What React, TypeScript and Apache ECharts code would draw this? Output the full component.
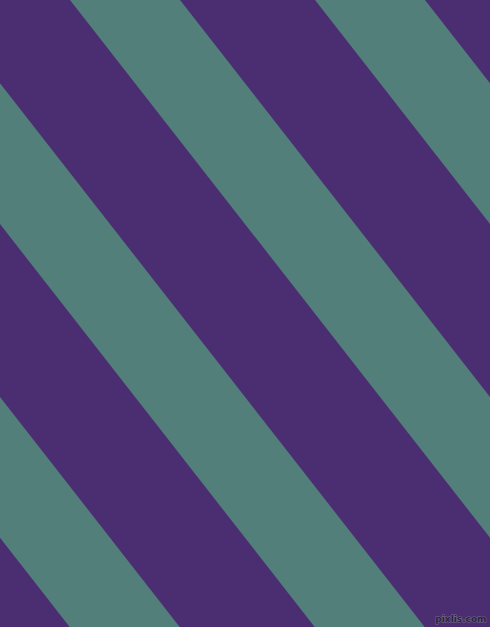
import React, { useEffect, useRef } from "react";
import * as echarts from "echarts";

// teal bands, x where each band meets the top edge (y = 0)
const bandStart = [-420, -175, 70, 315];
const bandEnd = [-310, -65, 180, 425];

const WIDTH = 490;
const HEIGHT = 627;
// horizontal shift per pixel down
const SLANT = 0.781;

const PURPLE = "#4b2d72";
const TEAL = "#527f7a";

const App: React.FC = () => {
  const chartRef = useRef<HTMLDivElement>(null);

  useEffect(() => {
    const chart = echarts.init(chartRef.current!, undefined, { renderer: "svg" });

    const option = {
      animation: false,
      backgroundColor: PURPLE,
      grid: { left: 0, right: 0, top: 0, bottom: 0 },
      xAxis: { type: "value", min: 0, max: WIDTH, show: false },
      yAxis: { type: "value", min: 0, max: HEIGHT, inverse: true, show: false },
      series: [
        {
          type: "custom",
          clip: true,
          data: bandStart.map((s, i) => [s, bandEnd[i]]),
          renderItem: (params: any, api: any) => {
            const s = api.value(0);
            const e = api.value(1);
            const shift = SLANT * HEIGHT;
            const points = [
              api.coord([s, 0]),
              api.coord([e, 0]),
              api.coord([e + shift, HEIGHT]),
              api.coord([s + shift, HEIGHT]),
            ];
            return {
              type: "polygon",
              shape: { points },
              style: { fill: TEAL },
            };
          },
        },
      ],
      graphic: [
        {
          type: "text",
          right: 3,
          bottom: 3,
          style: {
            text: "pixlis.com",
            font: "bold 9px 'DejaVu Sans'",
            fill: "#2a2440",
            stroke: "#76728a",
            lineWidth: 1,
          },
        },
      ],
    };

    chart.setOption(option as any);

    return () => {
      chart.dispose();
    };
  }, []);

  return (
    <div
      ref={chartRef}
      style={{ position: "fixed", left: 0, top: 0, width: WIDTH + "px", height: HEIGHT + "px" }}
    ></div>
  );
};

export default App;
